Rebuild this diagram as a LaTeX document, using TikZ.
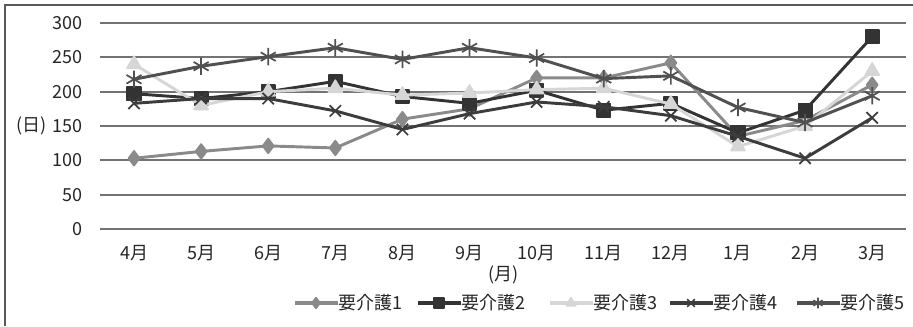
\documentclass[tikz,border=0pt]{standalone}
\usepackage{fontspec}
\setmainfont{Noto Sans CJK JP}
\usetikzlibrary{plotmarks}
\definecolor{grA}{HTML}{8A8A8A}
\definecolor{grB}{HTML}{333333}
\definecolor{grC}{HTML}{D6D6D6}
\definecolor{grD}{HTML}{3C3C3C}
\definecolor{grE}{HTML}{505050}

\begin{document}
\begin{tikzpicture}
  [x=0.75pt,y=0.75pt,every node/.style={font=\fontsize{13.5}{15}\selectfont,inner sep=0pt,text=black!85}]
  \tikzstyle{grid} = [draw=black!55,line width=1.5pt]
  \tikzstyle{series} = [line width=2.2pt,line join=round,mark options={solid,line width=1.3pt}]
  \useasboundingbox (0,0) rectangle (913,326);
  \draw[black!65,line width=1.6pt] (5,0) -- (5,321) -- (913,321);

\begin{scope}[shift={(66.9,97)},x=50.33pt,y=0.515pt]
  % gridlines and axis labels
  \foreach \v in {0,50,...,300} {
    \draw[grid] (0.5,\v) -- (12.5,\v);
    \node[anchor=east] (y\v) at (0.23,\v) {\v};
  }
  \node (ylab) at (-0.53,150) {(日)};
  \foreach \i/\m in {1/4,2/5,3/6,4/7,5/8,6/9,7/10,8/11,9/12,10/1,11/2,12/3}
    \node (m\i) at (\i,-35) {\m 月};
  \node (xlab) at (6.5,-67) {(月)};

  % series
  \draw[series,grA] plot[mark=diamond*,mark size=5.5pt] coordinates
    {(1,103) (2,113) (3,121) (4,118) (5,160) (6,175) (7,220) (8,220) (9,242) (10,135) (11,158) (12,210)};
  \draw[series,grB] plot[mark=square*,mark size=5pt] coordinates
    {(1,197) (2,190) (3,200) (4,215) (5,193) (6,183) (7,202) (8,173) (9,183) (10,140) (11,173) (12,280)};
  \draw[series,grC] plot[mark=triangle*,mark size=6pt] coordinates
    {(1,240) (2,180) (3,200) (4,205) (5,195) (6,198) (7,203) (8,205) (9,182) (10,120) (11,150) (12,230)};
  \draw[series,grD] plot[mark=x,mark size=6pt] coordinates
    {(1,183) (2,190) (3,190) (4,172) (5,145) (6,168) (7,185) (8,178) (9,165) (10,135) (11,103) (12,162)};
  \draw[series,grE] plot[mark=asterisk,mark size=6.5pt] coordinates
    {(1,218) (2,237) (3,251) (4,264) (5,247) (6,264) (7,249) (8,219) (9,223) (10,177) (11,155) (12,194)};
\end{scope}

  % legend
  \foreach \n/\c/\m/\x in {1/grA/diamond*/295,2/grB/square*/418,3/grC/triangle*/550,4/grD/x/670,5/grE/asterisk/797} {
    \node[anchor=west] (lg\n) at (\x+43,23) {要介護\n};
    \draw[series,\c,line width=2.6pt] (\x,23) -- (lg\n.west);
    \draw[series,\c] plot[mark=\m,mark size=4pt] coordinates {(\x+21,23)};
  }
\end{tikzpicture}
\end{document}
